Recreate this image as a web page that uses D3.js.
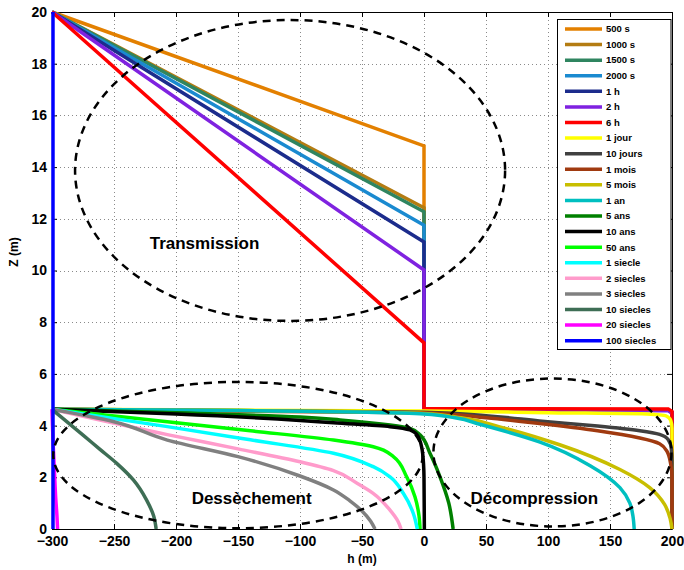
<!DOCTYPE html>
<html><head><meta charset="utf-8">
<script src="https://cdn.jsdelivr.net/npm/d3@7"></script>
<style>
body{margin:0;background:#fff}
text{font-family:"Liberation Sans",Arial,Helvetica,sans-serif;font-weight:bold}
</style>
</head><body>
<svg id="c" width="684" height="570"></svg>
<script>
// ---------- data ----------
const xTicks = [-300,-250,-200,-150,-100,-50,0,50,100,150,200];
const yTicks = [0,2,4,6,8,10,12,14,16,18,20];
const seriesNames = ["500 s","1000 s","1500 s","2000 s","1 h","2 h","6 h","1 jour","10 jours","1 mois","5 mois","1 an","5 ans","10 ans","50 ans","1 siecle","2 siecles","3 siecles","10 siecles","20 siecles","100 siecles"];
const seriesColors = ["#E38000","#B47C12","#2F8560","#1A8AD0","#1C2C8C","#7F22E0","#FF0000","#FFFF00","#404040","#A03A10","#C8BE00","#00BFC0","#008000","#000000","#00FF00","#00FFFF","#FF9BCB","#808080","#3E6E55","#FF00FF","#0000FF"];
// points are [h (m), Z (m)]
const s500s   = [[-300,20],[0,14.82],[0,4.63],[197,4.6],[200,4.5],[200,0]];
const s1000s  = [[-300,20],[0,12.43],[0,4.63],[197,4.6],[200,4.5],[200,0]];
const s1500s  = [[-300,20],[0,12.27],[0,4.63],[197,4.6],[200,4.5],[200,0]];
const s2000s  = [[-300,20],[0,11.75],[0,4.63],[197,4.6],[200,4.5],[200,0]];
const s1h     = [[-300,20],[0,11.1],[0,4.63],[197,4.6],[200,4.5],[200,0]];
const s2h     = [[-300,20],[0,10.02],[0,4.6],[197,4.57],[200,4.48],[200,0]];
const s6h     = [[-300,20],[0,7.2],[0,4.66],[197,4.64],[200,4.55],[200,0]];
const s1jour  = [[-300,4.63],[-150,4.6],[0,4.56],[100,4.5],[180,4.45],[195,4.38],[199,4.2],[200,3.9],[200,0]];
const s10jours= [[-300,4.63],[0,4.52],[50,4.38],[93,4.18],[140,3.98],[174,3.8],[190,3.66],[197,3.45],[199.5,3.1],[200,2.6],[200,0]];
const s1mois  = [[-300,4.63],[0,4.5],[50,4.3],[93,4.08],[140,3.8],[174,3.52],[190,3.3],[196,3.0],[199,2.5],[200,2.0],[200,0]];
const s5mois  = [[-300,4.63],[-150,4.58],[0,4.47],[30,4.3],[61,3.95],[110,3.25],[158,2.3],[182,1.6],[194,0.95],[198.5,0.4],[200,0]];
const s1an    = [[-300,4.63],[-150,4.58],[0,4.45],[25,4.3],[45,4.05],[93,3.37],[134,2.45],[158,1.6],[166,1.0],[168.5,0.5],[169.5,0]];
const s5ans   = [[-300,4.63],[-200,4.5],[-100,4.33],[-67.7,4.22],[-27.4,4.02],[-11.3,3.89],[-3.2,3.64],[4.8,2.93],[12.9,2.02],[20,1.0],[23.5,0]];
const s10ans  = [[-300,4.63],[-200,4.45],[-100,4.2],[-73,4.11],[-27.4,3.96],[-11.3,3.83],[-4.6,3.57],[-1.1,2.93],[0,2.0],[0.3,0]];
const s50ans  = [[-300,4.63],[-207,4.15],[-140,3.8],[-73,3.44],[-40.9,3.18],[-24.7,2.8],[-14,2.02],[-7.3,1.25],[-4,0.5],[-3.2,0]];
const s1siecle= [[-300,4.63],[-207,3.96],[-140,3.45],[-73,2.93],[-40.9,2.41],[-27.4,2.02],[-16.7,1.38],[-8.6,0.6],[-5.4,0]];
const s2siecles=[[-300,4.63],[-207,3.65],[-150,3.1],[-100,2.6],[-73,2.26],[-54,1.77],[-41,1.38],[-27.4,0.73],[-21,0.3],[-18.5,0]];
const s3siecles=[[-300,4.63],[-250,4.15],[-207,3.44],[-150,2.8],[-100,2.05],[-73,1.51],[-60,1.1],[-50,0.7],[-43,0.3],[-39.5,0]];
const s10siecles=[[-300,4.63],[-274.7,3.62],[-261.3,3.08],[-247.8,2.54],[-234.4,1.9],[-223.7,1.12],[-218,0.5],[-216,0]];
const s20siecles=[[-300,4.63],[-299.6,4.0],[-299,3.2],[-298,2.2],[-297,1.2],[-296,0.5],[-295.5,0]];
const s100siecles=[[-299.2,20],[-299.2,0]];
const seriesData = [s500s,s1000s,s1500s,s2000s,s1h,s2h,s6h,s1jour,s10jours,s1mois,s5mois,s1an,s5ans,s10ans,s50ans,s1siecle,s2siecles,s3siecles,s10siecles,s20siecles,s100siecles];
// which series are smooth curves (rest are straight segments)
const seriesSmooth = [false,false,false,false,false,false,false,true,true,true,true,true,true,true,true,true,true,true,true,true,false];
// annotation ellipses: centre h, centre Z, radius in h, radius in Z
const ellipseCH = [-108, -150, 103.6];
const ellipseCZ = [13.87, 2.86, 2.96];
const ellipseRH = [173.4, 149, 96];
const ellipseRZ = [5.82, 2.83, 2.86];
const zoneLabels = ["Transmission","Dessèchement","Décompression"];
const zoneLabelH = [-177, -139, 89];
const zoneLabelZ = [11.05, 1.18, 1.18];

// ---------- drawing ----------
const svg = d3.select("#c");
svg.append("rect").attr("width",684).attr("height",570).attr("fill","#fff");
const L=52, R=672, T=12, B=529;
const x = d3.scaleLinear().domain([-300,200]).range([L,R]);
const y = d3.scaleLinear().domain([0,20]).range([B,T]);

// grid
const grid = svg.append("g").attr("stroke","#8a8a8a").attr("stroke-width",1).attr("stroke-dasharray","1,3");
grid.selectAll(".gx").data(xTicks.slice(1,-1)).join("line")
  .attr("x1",d=>Math.round(x(d))+0.5).attr("x2",d=>Math.round(x(d))+0.5).attr("y1",T).attr("y2",B);
grid.selectAll(".gy").data(yTicks.slice(1,-1)).join("line")
  .attr("y1",d=>Math.round(y(d))+0.5).attr("y2",d=>Math.round(y(d))+0.5).attr("x1",L).attr("x2",R);

// axes
const fmt = d3.format("d");
const ax = svg.append("g").attr("transform",`translate(0,${B})`)
  .call(d3.axisBottom(x).tickValues(xTicks).tickFormat(fmt).tickSizeInner(-5).tickSizeOuter(0).tickPadding(7));
const ay = svg.append("g").attr("transform",`translate(${L},0)`)
  .call(d3.axisLeft(y).tickValues(yTicks).tickFormat(fmt).tickSizeInner(-5).tickSizeOuter(0).tickPadding(5));
const at = svg.append("g").attr("transform",`translate(0,${T})`)
  .call(d3.axisTop(x).tickValues(xTicks).tickFormat("").tickSizeInner(-5).tickSizeOuter(0));
const ar = svg.append("g").attr("transform",`translate(${R},0)`)
  .call(d3.axisRight(y).tickValues(yTicks).tickFormat("").tickSizeInner(-5).tickSizeOuter(0));
[ax,ay,at,ar].forEach(g=>{
  g.selectAll("text").attr("font-size",14).attr("fill","#000").style("font-family","'Liberation Sans',Arial,sans-serif").style("font-weight","bold");
  g.selectAll("line").attr("stroke","#000");
  g.select(".domain").attr("stroke","#000");
});

// curves
const lineStraight = d3.line().x(d=>x(d[0])).y(d=>y(d[1]));
const lineSmooth = d3.line().x(d=>x(d[0])).y(d=>y(d[1])).curve(d3.curveMonotoneY);
svg.append("g").selectAll("path").data(seriesData).join("path")
  .attr("d",(d,i)=>seriesSmooth[i]?lineSmooth(d):lineStraight(d)).attr("fill","none")
  .attr("stroke",(d,i)=>seriesColors[i]).attr("stroke-width",3.5);

// dashed ellipses
svg.append("g").selectAll("ellipse").data(ellipseCH).join("ellipse")
  .attr("cx",(d,i)=>x(ellipseCH[i])).attr("cy",(d,i)=>y(ellipseCZ[i]))
  .attr("rx",(d,i)=>x(ellipseRH[i])-x(0)).attr("ry",(d,i)=>y(0)-y(ellipseRZ[i]))
  .attr("fill","none").attr("stroke","#000").attr("stroke-width",2.5).attr("stroke-dasharray","8,6");

// zone labels
svg.append("g").selectAll("text").data(zoneLabels).join("text")
  .attr("x",(d,i)=>x(zoneLabelH[i])).attr("y",(d,i)=>y(zoneLabelZ[i]))
  .attr("text-anchor","middle").attr("dy","0.35em").attr("font-size",17).text(d=>d);

// axis titles
svg.append("text").attr("x",(L+R)/2).attr("y",563).attr("text-anchor","middle").attr("font-size",12).text("h (m)");
svg.append("text").attr("transform","translate(18,252) rotate(-90)").attr("text-anchor","middle").attr("font-size",12).text("Z (m)");

// legend
const lg = svg.append("g");
const lx0=557.5, ly0=19.5, lw=113.5, lh=330, step=15.585;
lg.append("rect").attr("x",lx0).attr("y",ly0).attr("width",lw).attr("height",lh).attr("fill","#fff").attr("stroke","#000").attr("stroke-width",1);
const items = lg.selectAll("g.it").data(seriesNames).join("g").attr("transform",(d,i)=>`translate(0,${29+i*step})`);
items.append("line").attr("x1",565).attr("x2",602).attr("y1",0).attr("y2",0).attr("stroke",(d,i)=>seriesColors[i]).attr("stroke-width",3.5);
items.append("text").attr("x",606).attr("y",0).attr("dy","0.35em").attr("font-size",9.5).text(d=>d);
</script>
</body></html>
